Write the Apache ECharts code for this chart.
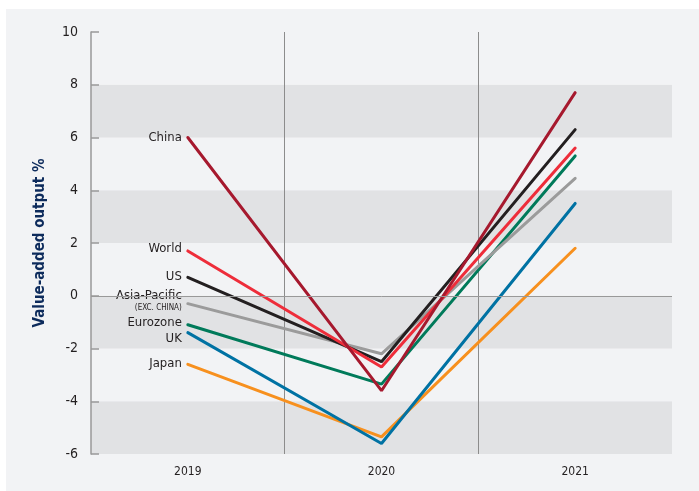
<!DOCTYPE html>
<html><head><meta charset="utf-8">
<script src="https://cdn.jsdelivr.net/npm/echarts@6/dist/echarts.min.js"></script>
<style>html,body{margin:0;padding:0;background:#fff}#c{width:699px;height:491px}</style>
</head><body><div id="c"></div>
<script>
var years = ['2019', '2020', '2021'];
var china = [6.0, -3.6, 7.7];
var world = [1.7, -2.7, 5.6];
var us = [0.7, -2.5, 6.3];
var asiaPac = [-0.3, -2.2, 4.45];
var eurozone = [-1.1, -3.35, 5.3];
var uk = [-1.4, -5.6, 3.5];
var japan = [-2.6, -5.35, 1.8];
var yTicks = [-6, -4, -2, 0, 2, 4, 6, 8, 10];

var FONT = '"DejaVu Sans Condensed", "DejaVu Sans", sans-serif';
var LIGHT = '#f2f3f5', BAND = '#e1e2e4';
var chart = echarts.init(document.getElementById('c'), null, {renderer: 'canvas'});

var splitBg = new echarts.graphic.LinearGradient(0, 0, 0, 1, [
  {offset: 0, color: LIGHT}, {offset: 0.5, color: LIGHT},
  {offset: 0.5, color: BAND}, {offset: 1, color: BAND}
]);

function mk(name, data, color, labelText, dy) {
  return {
    name: name, type: 'line', data: data,
    symbol: 'circle', symbolSize: 0, showSymbol: true,
    lineStyle: {color: color, width: 3, cap: 'round'},
    itemStyle: {color: color},
    emphasis: {disabled: true},
    silent: true,
    _label: labelText, _dy: dy || 0
  };
}
var series = [
  mk('Japan', japan, '#f7901e', 'Japan', -1),
  mk('UK', uk, '#0072a3', 'UK', 6),
  mk('Eurozone', eurozone, '#007a5a', 'Eurozone', -2),
  mk('Asia-Pacific', asiaPac, '#9b9b9b', 'Asia-Pacific', -3),
  mk('US', us, '#231f20', 'US', -1),
  mk('World', world, '#ee2d3a', 'World', -2),
  mk('China', china, '#a6192e', 'China', 0)
];
series.forEach(function (s) {
  var lbl = s._label, dy = s._dy; delete s._label; delete s._dy;
  s.data = s.data.map(function (v, i) {
    if (i !== 0) return v;
    var isAP = lbl === 'Asia-Pacific';
    return {
      value: v,
      label: {
        show: true, position: 'left', distance: isAP ? 4 : 6,
        fontFamily: FONT, fontSize: 13, color: '#231f20',
        formatter: isAP ? '{a|Asia-Pacific}\n{b|(EXC. CHINA)}' : lbl,
        rich: isAP ? {
          a: {fontFamily: FONT, fontSize: 13, color: '#231f20', align: 'right', lineHeight: 14,
              backgroundColor: splitBg, padding: [0, 2, 0, 3]},
          b: {fontFamily: FONT, fontSize: 8, color: '#231f20', align: 'right', lineHeight: 10, padding: [0, 2, 0, 0]}
        } : undefined,
        offset: [0, dy]
      }
    };
  });
});
series.push({
  type: 'line', data: [], silent: true,
  markLine: {
    silent: true, symbol: 'none', label: {show: false},
    lineStyle: {color: '#999999', width: 1, type: 'solid'},
    data: [{yAxis: 0}]
  }, z: 1
});

chart.setOption({
  backgroundColor: '#ffffff',
  animation: false,
  graphic: [{
    type: 'rect', left: 6, top: 9, z: -10, silent: true,
    shape: {width: 693, height: 482},
    style: {fill: LIGHT}
  }],
  grid: {left: 91, right: 27, top: 32, bottom: 37, containLabel: false},
  xAxis: {
    type: 'category', data: years, boundaryGap: true,
    axisLine: {show: false}, axisTick: {show: false},
    axisLabel: {fontFamily: FONT, fontSize: 12, color: '#231f20', margin: 12},
    splitLine: {show: true, showMinLine: false, showMaxLine: false, lineStyle: {color: '#8c8c8c', width: 1}}
  },
  yAxis: {
    type: 'value', min: -6, max: 10, interval: 2,
    name: 'Value-added output %', nameLocation: 'middle', nameGap: 43,
    nameTextStyle: {fontFamily: FONT, fontWeight: 'bold', fontSize: 15, color: '#0d2b5c'},
    axisLine: {show: true, lineStyle: {color: '#999999', width: 1.5}},
    axisTick: {show: true, inside: true, length: 8, lineStyle: {color: '#999999', width: 1.5}},
    axisLabel: {fontFamily: FONT, fontSize: 14, color: '#231f20', margin: 13,
      formatter: function (v) { return yTicks.indexOf(v) >= 0 ? String(v) : ''; }},
    splitLine: {show: false},
    splitArea: {show: true, areaStyle: {color: [BAND, LIGHT]}}
  },
  series: series
});
</script></body></html>
